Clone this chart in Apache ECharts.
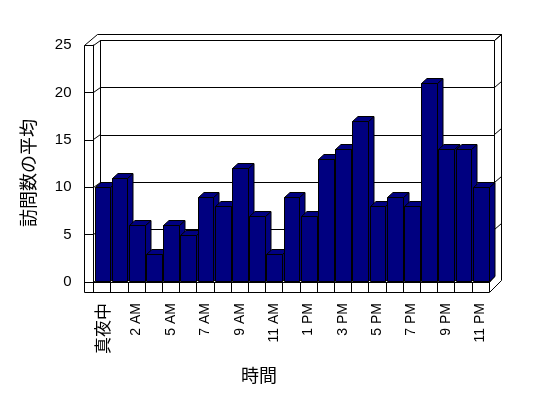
<!DOCTYPE html>
<html><head><meta charset="utf-8">
<script src="https://cdn.jsdelivr.net/npm/echarts@6/dist/echarts.min.js"></script>
<style>html,body{margin:0;padding:0;background:#fff}#c{width:548px;height:398px}</style>
</head><body><div id="c"></div>
<script>
// ---- data ----
const categories = ['真夜中','1 AM','2 AM','3 AM','5 AM','6 AM','7 AM','8 AM','9 AM','10 AM','11 AM','正午',
  '1 PM','2 PM','3 PM','4 PM','5 PM','6 PM','7 PM','8 PM','9 PM','10 PM','11 PM'];
const visits = [10,11,6,3,6,5,9,8,12,7,3,9,7,13,14,17,8,9,8,21,14,14,10];
const yMin = 0, yMax = 25, yStep = 5;
const xAxisTitle = '時間';
const yAxisTitle = '訪問数の平均';

// ---- layout / style ----
const W = 548, H = 398;
const FRONT = {left: 93.5, top: 45, right: 489, bottom: 282};
const BACK = {left: 100.5, top: 40.5, right: 494.5, bottom: 276.5};
const DEPTH = [5.5, -5];
const LAT = 'Liberation Sans, Arial, sans-serif';
const CJK = 'Noto Sans CJK JP';
const BAR = '#000080';

const chart = echarts.init(document.getElementById('c'), null, {renderer: 'canvas'});

function renderBar(params, api) {
  const i = api.value(0), v = api.value(1);
  const top = api.coord([i, v]), base = api.coord([i, 0]);
  const cw = api.size([1, 0])[0];
  const bL = top[0] - cw / 2;
  const x0 = Math.round(bL + 1) + 0.5;
  const x1 = Math.round(bL + cw - 0.5) + 0.5;
  const yt = Math.round(top[1]) + 0.5, yb = Math.round(base[1]) - 0.5;
  const dx = DEPTH[0], dy = DEPTH[1];
  const st = {fill: BAR, stroke: '#000', lineWidth: 1};
  return {type: 'group', children: [
    {type: 'polygon', shape: {points: [[x1, yt], [x1 + dx, yt + dy], [x1 + dx, yb + dy], [x1, yb]]}, style: st},
    {type: 'polygon', shape: {points: [[x0, yt], [x1, yt], [x1 + dx, yt + dy], [x0 + dx, yt + dy]]}, style: st},
    {type: 'rect', shape: {x: x0, y: yt, width: x1 - x0, height: yb - yt}, style: st}
  ]};
}

chart.setOption({
  animation: false,
  backgroundColor: '#fff',
  grid: [
    {left: FRONT.left, top: FRONT.top, width: FRONT.right - FRONT.left, height: FRONT.bottom - FRONT.top, containLabel: false},
    {left: BACK.left, top: BACK.top, width: BACK.right - BACK.left, height: BACK.bottom - BACK.top, containLabel: false}
  ],
  xAxis: [
    {
      type: 'category', gridIndex: 0, data: categories, boundaryGap: true,
      axisLine: {show: true, lineStyle: {color: '#000', width: 1}},
      axisTick: {show: true, interval: 0, length: 10, lineStyle: {color: '#000'}},
      axisLabel: {
        interval: 1, rotate: 90, margin: 21, color: '#000', fontFamily: LAT, fontSize: 14,
        formatter: (val) => /[\u3000-\u9fff]/.test(val) ? '{j|' + val + '}' : val,
        rich: {j: {fontFamily: CJK, fontSize: 17, color: '#000'}}
      },
      splitLine: {show: false}
    },
    {type: 'category', gridIndex: 1, data: categories, show: false}
  ],
  yAxis: [
    {
      type: 'value', gridIndex: 0, min: yMin, max: yMax, interval: yStep,
      axisLine: {show: true, lineStyle: {color: '#000'}},
      axisTick: {show: true, length: 9, lineStyle: {color: '#000'}},
      axisLabel: {margin: 22, color: '#000', fontFamily: LAT, fontSize: 15},
      splitLine: {show: false}
    },
    {
      type: 'value', gridIndex: 1, min: yMin, max: yMax, interval: yStep,
      axisLine: {show: true, lineStyle: {color: '#000'}},
      axisTick: {show: false}, axisLabel: {show: false},
      splitLine: {show: true, lineStyle: {color: '#000', width: 1}}
    }
  ],
  series: [{
    type: 'custom', xAxisIndex: 0, yAxisIndex: 0, z: 10,
    renderItem: renderBar,
    data: visits.map((v, i) => [i, v])
  }]
});

// frame decoration derived from the axes
const yf = v => chart.convertToPixel({yAxisIndex: 0}, v);
const yb = v => chart.convertToPixel({yAxisIndex: 1}, v);
const r = n => Math.round(n - 0.5) + 0.5;
const lines = [
  [84.5, r(yf(yMax)), 84.5, 292.5],
  [84.5, 292.5, 489.5, 292.5],
  [489.5, 292.5, 501.5, 280.5],
  [501.5, 280.5, 501.5, 34.5],
  [501.5, 34.5, 97.5, 34.5],
  [97.5, 34.5, 84.5, r(yf(yMax))],
  [BACK.right, BACK.top, BACK.right, BACK.bottom],
  [BACK.right, BACK.top, 501.5, 34.5],
  [489.5, 282.5, 494.5, 276.5]
];
for (let v = yMin; v <= yMax; v += yStep) {
  lines.push([FRONT.left, r(yf(v)), BACK.left, r(yb(v))]);
  if (v > yMin) lines.push([BACK.right, r(yb(v)), 501.5, r(yb(v)) - 6]);
}
const graphics = lines.map(l => ({
  type: 'line', z: 1, silent: true,
  shape: {x1: l[0], y1: l[1], x2: l[2], y2: l[3]},
  style: {stroke: '#000', lineWidth: 1}
}));
graphics.push({
  type: 'text', x: 28, y: 173, rotation: Math.PI / 2, z: 5,
  style: {text: yAxisTitle, font: '18px "Noto Sans CJK JP"', fill: '#000', align: 'center', verticalAlign: 'middle'}
});
graphics.push({
  type: 'text', x: 259, y: 375, z: 5,
  style: {text: xAxisTitle, font: '18px "Noto Sans CJK JP"', fill: '#000', align: 'center', verticalAlign: 'middle'}
});
chart.setOption({graphic: graphics});
</script>
</body></html>
